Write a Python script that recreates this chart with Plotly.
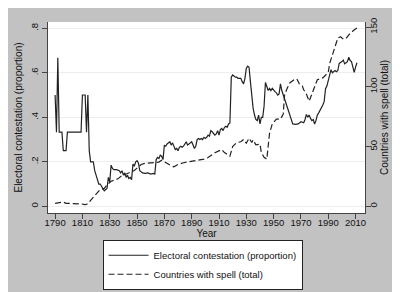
import plotly.graph_objects as go

# Electoral contestation (proportion) - left axis
contest_years = [1790, 1791, 1792, 1793, 1795, 1796, 1798, 1799, 1809, 1810, 1812, 1813, 1814,
                 1815, 1816, 1818, 1819, 1820, 1821, 1822, 1823, 1824, 1825, 1826, 1828, 1829,
                 1830, 1831, 1832, 1833, 1835, 1837, 1838, 1839, 1840, 1841, 1842, 1843, 1844,
                 1845, 1846, 1847, 1848, 1849, 1850, 1851, 1852, 1854, 1856, 1858, 1860, 1862,
                 1863, 1864, 1865, 1866, 1867, 1868, 1869, 1870, 1871, 1872, 1874, 1875, 1876,
                 1877, 1878, 1879, 1880, 1881, 1882, 1883, 1884, 1885, 1886, 1887, 1888, 1889,
                 1890, 1891, 1892, 1893, 1894, 1895, 1896, 1897, 1898, 1899, 1900, 1901, 1902,
                 1903, 1904, 1905, 1906, 1907, 1908, 1909, 1910, 1911, 1912, 1913, 1914, 1915,
                 1916, 1917, 1918, 1919, 1920, 1921, 1922, 1923, 1924, 1925, 1926, 1927, 1928,
                 1929, 1930, 1931, 1932, 1933, 1934, 1935, 1936, 1937, 1938, 1939, 1940, 1941,
                 1942, 1943, 1944, 1945, 1946, 1947, 1948, 1949, 1950, 1951, 1952, 1953, 1954,
                 1955, 1956, 1957, 1958, 1959, 1960, 1962, 1964, 1966, 1967, 1968, 1970, 1972,
                 1973, 1974, 1975, 1976, 1977, 1978, 1979, 1980, 1981, 1982, 1983, 1984, 1985,
                 1986, 1987, 1988, 1989, 1990, 1991, 1992, 1993, 1994, 1995, 1996, 1997, 1998,
                 1999, 2000, 2001, 2002, 2003, 2004, 2005, 2006, 2007, 2008, 2009, 2010, 2011,
                 2012, 2013]
contest_values = [0.5, 0.333, 0.667, 0.333, 0.333, 0.25, 0.25, 0.333, 0.333, 0.5, 0.5, 0.333, 0.5,
                  0.25, 0.2, 0.2, 0.16, 0.14, 0.12, 0.1, 0.1, 0.09, 0.085, 0.07, 0.08, 0.13,
                  0.11, 0.185, 0.17, 0.165, 0.165, 0.16, 0.15, 0.16, 0.14, 0.15, 0.13, 0.14, 0.125,
                  0.13, 0.12, 0.19, 0.18, 0.2, 0.205, 0.195, 0.16, 0.15, 0.148, 0.15, 0.145, 0.148,
                  0.145, 0.21, 0.22, 0.215, 0.23, 0.225, 0.21, 0.275, 0.27, 0.28, 0.29, 0.275, 0.285,
                  0.265, 0.255, 0.26, 0.25, 0.265, 0.27, 0.265, 0.27, 0.28, 0.29, 0.275, 0.28, 0.285,
                  0.29, 0.275, 0.26, 0.27, 0.3, 0.305, 0.3, 0.305, 0.3, 0.31, 0.305, 0.31, 0.32,
                  0.315, 0.34, 0.335, 0.325, 0.32, 0.325, 0.34, 0.32, 0.345, 0.35, 0.34, 0.355, 0.36,
                  0.355, 0.37, 0.375, 0.58, 0.59, 0.585, 0.58, 0.58, 0.575, 0.575, 0.575, 0.56, 0.55,
                  0.575, 0.62, 0.63, 0.625, 0.56, 0.485, 0.44, 0.41, 0.39, 0.385, 0.41, 0.37,
                  0.4, 0.4, 0.45, 0.556, 0.54, 0.52, 0.53, 0.52, 0.53, 0.52, 0.515, 0.51,
                  0.5, 0.505, 0.55, 0.52, 0.5, 0.49, 0.46, 0.44, 0.4, 0.37, 0.368, 0.37, 0.37,
                  0.38, 0.375, 0.39, 0.413, 0.4, 0.41, 0.395, 0.385, 0.39, 0.37, 0.385, 0.41, 0.42,
                  0.43, 0.442, 0.455, 0.47, 0.528, 0.54, 0.57, 0.6, 0.614, 0.6, 0.605, 0.61, 0.605,
                  0.61, 0.642, 0.645, 0.65, 0.657, 0.64, 0.645, 0.65, 0.67, 0.655, 0.65, 0.63, 0.602,
                  0.625, 0.645]

# Countries with spell (total) - right axis
spell_years = [1790, 1793, 1796, 1798, 1800, 1805, 1809, 1812, 1814, 1816, 1819, 1821, 1823,
               1826, 1828, 1831, 1833, 1836, 1838, 1842, 1845, 1848, 1850, 1853, 1856, 1860,
               1864, 1866, 1868, 1870, 1873, 1875, 1877, 1880, 1884, 1889, 1894, 1899, 1902,
               1907, 1912, 1914, 1918, 1920, 1923, 1926, 1928, 1930, 1932, 1934, 1935, 1937,
               1940, 1941, 1943, 1945, 1947, 1949, 1952, 1955, 1957, 1958, 1960, 1962, 1965,
               1967, 1969, 1971, 1972, 1974, 1976, 1977, 1980, 1982, 1986, 1988, 1990, 1991,
               1993, 1995, 1997, 1999, 2001, 2003, 2005, 2008, 2009, 2011, 2013]
spell_values = [2.5, 3, 3.5, 2.5, 2.5, 2.5, 2, 1.5, 2, 5, 9, 12, 14,
                15, 18, 21, 22, 23, 25, 27, 28, 30, 32, 35, 36, 36.5,
                36.5, 37, 38.5, 37, 35, 34, 33, 35, 36.5, 37.5, 38.5, 39.5, 40.8,
                44.8, 47.5, 45, 42, 50, 53.4, 54, 56, 52.8, 57, 53.4, 55.6, 51.5,
                52, 45, 41, 39.5, 61, 69, 73, 73, 77, 93, 99, 103.5, 106,
                106.7, 102, 100.8, 97.6, 94, 88, 91, 100.8, 106, 107.5, 109.4, 112, 119.5,
                126, 134, 140.8, 142, 140, 140.5, 143.5, 146.7, 147.5, 149.4, 149.4]

x_ticks = [1790, 1810, 1830, 1850, 1870, 1890, 1910, 1930, 1950, 1970, 1990, 2010]
y_ticks = [0, 0.2, 0.4, 0.6, 0.8]
y_labels = ["0", ".2", ".4", ".6", ".8"]
y2_ticks = [0, 50, 100, 150]

FONT = "Liberation Sans, Arial, sans-serif"
INK = "#222222"
BG = "#C2C2C2"
AX = "#444444"

fig = go.Figure()
fig.add_trace(go.Scatter(x=contest_years, y=contest_values, mode="lines",
                         name="Electoral contestation (proportion)",
                         line=dict(color=INK, width=1.2)))
fig.add_trace(go.Scatter(x=spell_years, y=spell_values, mode="lines",
                         name="Countries with spell (total)", yaxis="y2",
                         line=dict(color=INK, width=1.2, dash="6px,3px")))

fig.update_layout(
    width=400, height=292,
    margin=dict(l=38, r=43, t=10, b=82),
    paper_bgcolor=BG, plot_bgcolor="white",
    font=dict(family=FONT, size=10, color="#111111"),
    xaxis=dict(range=[1784.8, 2016.9], tickvals=x_ticks, ticks="outside", ticklen=5,
               tickcolor=AX, showline=True, linecolor=AX, linewidth=1, showgrid=False,
               zeroline=False, tickfont=dict(size=9.5), ticklabelstandoff=-4,
               title=dict(text="Year", font=dict(size=10), standoff=0)),
    yaxis=dict(range=[-0.030, 0.828], tickvals=y_ticks, ticktext=y_labels, ticks="outside",
               ticklen=5, tickcolor=AX, tickangle=-90, showline=True, linecolor=AX,
               linewidth=1, showgrid=True, gridcolor="#EDEDED", gridwidth=1, zeroline=False,
               tickfont=dict(size=9.5),
               title=dict(text="Electoral contestation (proportion)", font=dict(size=10),
                          standoff=4)),
    yaxis2=dict(range=[-5.6, 154.3], tickvals=y2_ticks, overlaying="y", side="right",
                ticks="outside", ticklen=5, tickcolor=AX, tickangle=-90, showline=True,
                linecolor=AX, linewidth=1, showgrid=False, zeroline=False,
                tickfont=dict(size=9.5), ticklabelstandoff=-5,
                title=dict(text="Countries with spell (total)", font=dict(size=10),
                           standoff=0)),
    legend=dict(x=0.172, y=-0.14, xanchor="left", yanchor="top", bgcolor="white",
                bordercolor="#222222", borderwidth=1, font=dict(size=9.5), itemwidth=40,
                tracegroupgap=0),
    showlegend=True,
)

fig.write_html("out.html")
